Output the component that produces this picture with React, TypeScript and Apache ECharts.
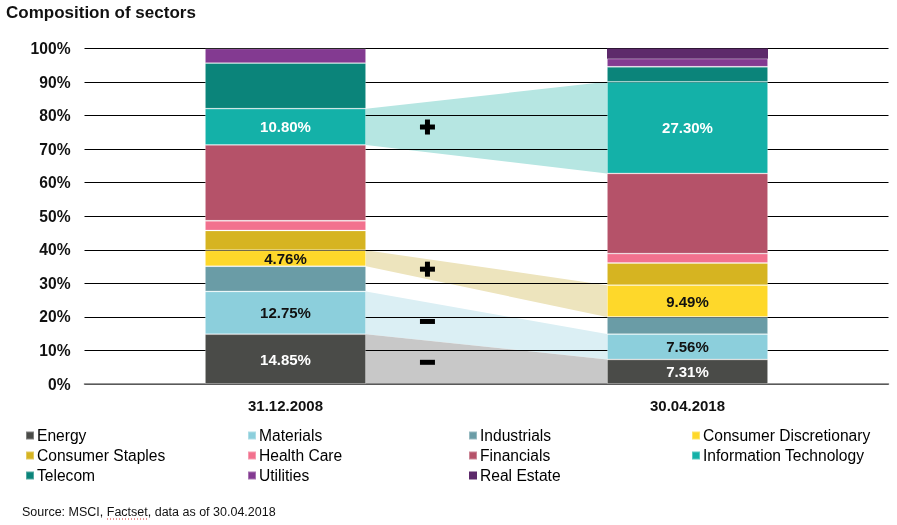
import React, { useEffect, useRef } from "react";
import * as echarts from "echarts";

const categories = ["31.12.2008", "30.04.2018"];
const sectors = [
  "Energy",
  "Materials",
  "Industrials",
  "Consumer Discretionary",
  "Consumer Staples",
  "Health Care",
  "Financials",
  "Information Technology",
  "Telecom",
  "Utilities",
  "Real Estate",
];
const values2008 = [14.85, 12.75, 7.5, 4.76, 5.9, 2.9, 22.6, 10.8, 13.6, 4.34, 0];
const values2018 = [7.31, 7.56, 5.1, 9.49, 6.6, 2.8, 23.9, 27.3, 4.5, 2.4, 3.04];
const labelledSectors = ["Energy", "Materials", "Consumer Discretionary", "Information Technology"];
const yTicks = [0, 10, 20, 30, 40, 50, 60, 70, 80, 90, 100];

const bandSectors = ["Information Technology", "Consumer Discretionary", "Materials", "Energy"];
const bandSigns = ["+", "+", "-", "-"];

const legendColumns = [
  ["Energy", "Consumer Staples", "Telecom"],
  ["Materials", "Health Care", "Utilities"],
  ["Industrials", "Financials", "Real Estate"],
  ["Consumer Discretionary", "Information Technology"],
];

const sectorColors: Record<string, string> = {
  Energy: "#4a4b48",
  Materials: "#8ccfdc",
  Industrials: "#6a9ca6",
  "Consumer Discretionary": "#fed82a",
  "Consumer Staples": "#d6b421",
  "Health Care": "#f2718e",
  Financials: "#b55269",
  "Information Technology": "#14b1a8",
  Telecom: "#0b847a",
  Utilities: "#833a91",
  "Real Estate": "#5d2a6b",
};
const labelColors: Record<string, string> = {
  Energy: "#ffffff",
  Materials: "#111111",
  "Consumer Discretionary": "#111111",
  "Information Technology": "#ffffff",
};
const bandColors = ["#b6e6e2", "#ede4bd", "#dbeff4", "#c8c8c8"];

const FONT = "'Liberation Sans', Arial, sans-serif";
const BAR_WIDTH = 161;

function cumBefore(vals: number[], k: number) {
  let s = 0;
  for (let i = 0; i < k; i++) s += vals[i];
  return s;
}

function bandGeom(api: any, i: number) {
  const k = sectors.indexOf(bandSectors[i]);
  const l0 = cumBefore(values2008, k);
  const l1 = l0 + values2008[k];
  const r0 = cumBefore(values2018, k);
  const r1 = r0 + values2018[k];
  const pl0 = api.coord([0, l0]);
  const pl1 = api.coord([0, l1]);
  const pr0 = api.coord([1, r0]);
  const pr1 = api.coord([1, r1]);
  const x0 = pl0[0] + BAR_WIDTH / 2;
  const x1 = pr0[0] - BAR_WIDTH / 2;
  return { x0, x1, yl0: pl0[1], yl1: pl1[1], yr0: pr0[1], yr1: pr1[1] };
}

export default function App() {
  const ref = useRef<HTMLDivElement>(null);
  useEffect(() => {
    if (!ref.current) return;
    const chart = echarts.init(ref.current, undefined, { renderer: "svg" });

    const barSeries = sectors.map((name) => ({
      type: "bar",
      name,
      stack: "total",
      barWidth: BAR_WIDTH,
      z: 3,
      itemStyle: {
        color: sectorColors[name],
        borderColor: "rgba(255,255,255,0.3)",
        borderWidth: name === "Real Estate" ? 0 : 0.8,
      },
      label: {
        show: labelledSectors.includes(name),
        position: "inside",
        color: labelColors[name] || "#111",
        fontFamily: FONT,
        fontWeight: "bold",
        fontSize: 15,
        formatter: (p: any) => `${Number(p.value).toFixed(2)}%`,
      },
      data: [values2008[sectors.indexOf(name)], values2018[sectors.indexOf(name)]],
    }));

    const bandSeries = {
      type: "custom",
      name: "bands",
      z: -1,
      silent: true,
      data: bandSectors.map((s) => ({ name: s, value: [0, 0] })),
      renderItem: (params: any, api: any) => {
        const g = bandGeom(api, params.dataIndex);
        return {
          type: "polygon",
          shape: {
            points: [
              [g.x0, g.yl1],
              [g.x1, g.yr1],
              [g.x1, g.yr0],
              [g.x0, g.yl0],
            ],
          },
          style: { fill: bandColors[params.dataIndex] },
        };
      },
    };

    const signSeries = {
      type: "custom",
      name: "signs",
      z: 5,
      silent: true,
      data: bandSigns.map((s) => ({ name: s, value: [0, 0] })),
      renderItem: (params: any, api: any) => {
        const g = bandGeom(api, params.dataIndex);
        const t = 0.255;
        const cx = g.x0 + (g.x1 - g.x0) * t;
        const top = g.yl1 + (g.yr1 - g.yl1) * t;
        const bot = g.yl0 + (g.yr0 - g.yl0) * t;
        const cy = (top + bot) / 2;
        const children: any[] = [
          { type: "rect", shape: { x: cx - 7.5, y: cy - 2.5, width: 15, height: 5 }, style: { fill: "#000" } },
        ];
        if (bandSigns[params.dataIndex] === "+") {
          children.push({
            type: "rect",
            shape: { x: cx - 2.5, y: cy - 7.5, width: 5, height: 15 },
            style: { fill: "#000" },
          });
        }
        return { type: "group", children };
      },
    };

    const legends = legendColumns.map((col, i) => ({
      orient: "vertical",
      left: [25, 247, 468, 691][i],
      top: 427.5,
      padding: 0,
      itemWidth: 8,
      itemHeight: 8,
      itemGap: 4,
      icon: "rect",
      selectedMode: false,
      data: col,
      textStyle: { fontFamily: FONT, fontSize: 15.6, lineHeight: 16, color: "#000", padding: [0, 0, 0, -2] },
    }));

    chart.setOption({
      animation: false,
      textStyle: { fontFamily: FONT },
      title: {
        text: "Composition of sectors",
        left: 6,
        top: 4,
        padding: 0,
        textStyle: { fontFamily: FONT, fontSize: 17, fontWeight: "bold", color: "#111" },
      },
      legend: legends,
      grid: { left: 84.5, right: 8.5, top: 48.5, bottom: 141, containLabel: false },
      xAxis: {
        type: "category",
        data: categories,
        axisTick: { show: false },
        axisLine: { show: true, lineStyle: { color: "#777", width: 1.5 } },
        axisLabel: { margin: 14, color: "#111", fontFamily: FONT, fontSize: 15, fontWeight: "bold" },
        z: 1,
      },
      yAxis: {
        type: "value",
        min: yTicks[0],
        max: yTicks[yTicks.length - 1],
        interval: 10,
        axisLine: { show: false },
        axisTick: { show: false },
        axisLabel: {
          margin: 14,
          color: "#111",
          fontFamily: FONT,
          fontSize: 15.6,
          fontWeight: "bold",
          formatter: "{value}%",
        },
        splitLine: { show: true, lineStyle: { color: "#000", width: 1 } },
      },
      graphic: [
        {
          type: "text",
          left: 22,
          top: 505,
          style: { text: "Source: MSCI, Factset, data as of 30.04.2018", fill: "#111", font: `12.5px ${FONT}` },
        },
        {
          type: "line",
          shape: { x1: 107, y1: 519, x2: 149, y2: 519 },
          style: { stroke: "#e03030", lineWidth: 1, lineDash: [1, 2] },
        },
      ],
      series: [bandSeries, ...barSeries, signSeries],
    });
    return () => chart.dispose();
  }, []);
  return <div ref={ref} style={{ position: "fixed", left: 0, top: 0, width: 897, height: 525 }} />;
}
